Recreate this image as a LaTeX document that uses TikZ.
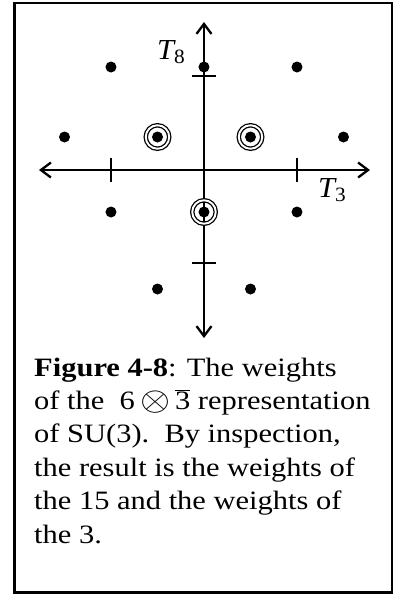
\documentclass[tikz,border=0pt]{standalone}
\usepackage{fontspec}
\usepackage{graphicx}
\setmainfont{Liberation Serif}
\usetikzlibrary{arrows.meta}
\definecolor{ink}{HTML}{000000}

\tikzset{
  wt/.style={circle,fill=ink,inner sep=0pt,minimum size=11pt},
  ring/.style={circle,draw=ink,double,double distance=1.9pt,line width=1.3pt,inner sep=0pt,minimum size=23.5pt},
  axis/.style={ink,line width=2.3pt,{Straight Barb[length=10pt,width=15pt]}-{Straight Barb[length=10pt,width=15pt]}},
  tick/.style={ink,line width=2pt},
  lbl/.style={font=\fontsize{29}{32}\selectfont,inner sep=0pt,xscale=1.05,transform shape}
}

\begin{document}
\begin{tikzpicture}[x=1pt,y=1pt]
\useasboundingbox (-204,170) rectangle (189,-425);

% ===== Frame =====
\draw[ink,line width=2.2pt] (-189.5,167) rectangle (188.5,-422.5);

% ===== Axes =====
\coordinate (xl) at (-165,0);
\coordinate (xr) at (166,0);
\coordinate (yb) at (0,-168);
\coordinate (yt) at (0,148);
\draw[axis] (xl) -- (xr);
\draw[axis] (yb) -- (yt);

% Ticks
\draw[tick] (-93,-12) -- (-93,12);
\draw[tick] (93,-12) -- (93,12);
\draw[tick] (-12,94) -- (12,94);
\draw[tick] (-12,-93) -- (12,-93);

% Labels
\node[lbl,anchor=base west] (t8) at (-47,111) {\itshape T\textsubscript{\upshape 8}};
\node[lbl,anchor=base west] (t3) at (114,-27) {\itshape T\textsubscript{\upshape 3}};

% ===== Weights =====
% top row
\node[wt] (w1) at (-93,103) {};
\node[wt] (w2) at (0,103) {};
\node[wt] (w3) at (93,103) {};
% second row
\node[wt] (w4) at (-139.5,33) {};
\node[ring] (r1) at (-46.5,33) {};
\node[wt] (w5) at (r1) {};
\node[ring] (r2) at (46.5,33) {};
\node[wt] (w6) at (r2) {};
\node[wt] (w7) at (139.5,33) {};
% third row
\node[wt] (w8) at (-93,-42) {};
\node[ring] (r3) at (0,-42) {};
\node[wt] (w9) at (r3) {};
\node[wt] (w10) at (93,-42) {};
% bottom row
\node[wt] (w11) at (-46.5,-119) {};
\node[wt] (w12) at (46.5,-119) {};

% ===== Caption =====
\node[anchor=base west,align=left,inner sep=0pt,xscale=1.15,transform shape,
      font=\fontsize{26.5}{33.4}\selectfont] (cap) at (-170,-373)
  {\textbf{Figure 4-8}: The weights\\
   of the\ \ 6\,\raisebox{-0.06em}{\scalebox{1.35}{$\otimes$}}\,$\overline{\mbox{3}}$ representation\\
   of SU(3).\ \ By inspection,\\
   the result is the weights of\\
   the 15 and the weights of\\
   the 3.};

\end{tikzpicture}
\end{document}
